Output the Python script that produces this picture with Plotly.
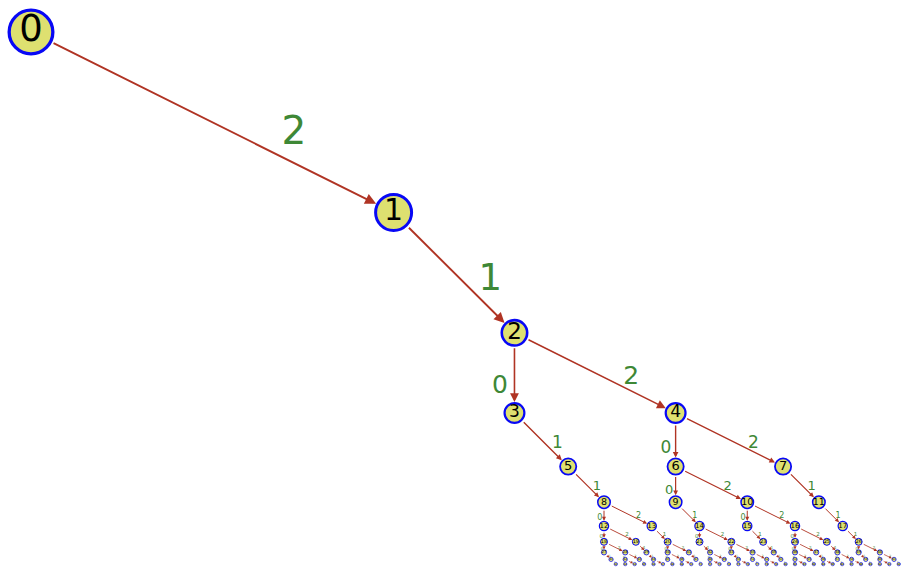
import plotly.graph_objects as go

# ---- tree data: node ids, parent of each node, digit label on the edge into it ----
node_ids = list(range(0, 93))
parents = [None,
           0, 1, 2, 2, 3, 4, 4, 5, 6, 6, 7, 8, 8, 9, 10, 10, 11, 12, 12, 13,
           14, 14, 15, 16, 16, 17, 18, 18, 19, 20, 20, 21, 22, 22, 23, 24, 24, 25, 26, 26,
           27, 28, 28, 29, 30, 30, 31, 32, 32, 33, 34, 34, 35, 36, 36, 37, 38, 38, 39, 40,
           40, 41, 42, 42, 43, 44, 44, 45, 46, 46, 47, 48, 48, 49, 50, 50, 51, 52, 52, 53,
           54, 54, 55, 56, 56, 57, 58, 58, 59, 60, 60, 61]
edge_labels = [None,
               2, 1, 0, 2, 1, 0, 2, 1, 0, 2, 1, 0, 2, 1, 0, 2, 1, 0, 2, 1,
               0, 2, 1, 0, 2, 1, 0, 2, 1, 0, 2, 1, 0, 2, 1, 0, 2, 1, 0, 2,
               1, 0, 2, 1, 0, 2, 1, 0, 2, 1, 0, 2, 1, 0, 2, 1, 0, 2, 1, 0,
               2, 1, 0, 2, 1, 0, 2, 1, 0, 2, 1, 0, 2, 1, 0, 2, 1, 0, 2, 1,
               0, 2, 1, 0, 2, 1, 0, 2, 1, 0, 2, 1]

# ---- styles by depth ----
SHRINK = 2.0 / 3.0
node_outer = [47, 39, 28, 22, 18, 14, 10.5, 8, 6, 5, 4]
node_border = [3.3, 3.0, 2.6, 2.2, 1.8, 1.5, 1.2, 1.0, 0.8, 0.7, 0.6]
node_font = [37, 30, 23, 17, 13, 9.5, 7, 5, 4, 3, 2.5]
elabel_font = [0, 39, 37, 25, 17, 13, 8, 5.5, 4, 3, 2.5]
edge_width = [0, 2.0, 1.9, 1.6, 1.4, 1.2, 1.0, 0.9, 0.8, 0.7, 0.6]
# label offset (relative to parent, in edge-scale units) for digit 0,1,2
lab_off = {0: (-0.18, 0.67), 1: (0.80, 0.57), 2: (1.45, 0.565)}

EDGE_COLOR = "rgb(176,52,36)"
FILL = "rgb(222,224,112)"
BORDER = "rgb(8,8,245)"
GREEN = "rgb(62,136,54)"
FONT = "DejaVu Sans"

# ---- layout: each digit d moves (d, 1) scaled by (2/3)^(depth-1) ----
depth = {0: 0}
X = {0: 0.0}
Y = {0: 0.0}
for m in node_ids[1:]:
    p = parents[m]
    d = depth[p] + 1
    s = SHRINK ** (d - 1)
    depth[m] = d
    X[m] = X[p] + edge_labels[m] * s
    Y[m] = Y[p] - s

fig = go.Figure()

annotations = []
lx, ly, lt, lf = [], [], [], []
for m in node_ids[1:]:
    p = parents[m]
    d = depth[m]
    s = SHRINK ** (d - 1)
    annotations.append(dict(
        x=X[m], y=Y[m], ax=X[p], ay=Y[p],
        xref="x", yref="y", axref="x", ayref="y",
        text="", showarrow=True, arrowhead=2,
        arrowsize=1.1 if d < 4 else 0.8,
        arrowwidth=edge_width[d], arrowcolor=EDGE_COLOR,
        standoff=node_outer[d] / 2.0, startstandoff=node_outer[depth[p]] / 2.0,
    ))
    ox, oy = lab_off[edge_labels[m]]
    lx.append(X[p] + ox * s)
    ly.append(Y[p] - oy * s)
    lt.append(str(edge_labels[m]))
    lf.append(elabel_font[d])

fig.add_trace(go.Scatter(
    x=lx, y=ly, mode="text", text=lt,
    textfont=dict(family=FONT, size=lf, color=GREEN),
    hoverinfo="skip", showlegend=False, cliponaxis=False,
))

fig.add_trace(go.Scatter(
    x=[X[m] for m in node_ids], y=[Y[m] for m in node_ids],
    mode="markers+text", text=[str(m) for m in node_ids],
    textposition="middle center",
    textfont=dict(family=FONT, size=[node_font[depth[m]] for m in node_ids], color="black"),
    marker=dict(
        size=[node_outer[depth[m]] - node_border[depth[m]] for m in node_ids],
        color=FILL, opacity=1,
        line=dict(color=BORDER, width=[node_border[depth[m]] for m in node_ids]),
    ),
    hoverinfo="skip", showlegend=False, cliponaxis=False,
))

UX = 181.3
UY = 180.5
fig.update_layout(
    width=901, height=568,
    margin=dict(l=0, r=0, t=0, b=0),
    paper_bgcolor="white", plot_bgcolor="white",
    xaxis=dict(range=[-31 / UX, (901 - 31) / UX], visible=False, fixedrange=True),
    yaxis=dict(range=[-(568 - 32) / UY, 32 / UY], visible=False, fixedrange=True),
    annotations=annotations,
    showlegend=False,
)

fig.write_html("out.html", config={"displayModeBar": False},
               post_script="document.body.style.margin='0px';document.body.style.overflow='hidden';")
